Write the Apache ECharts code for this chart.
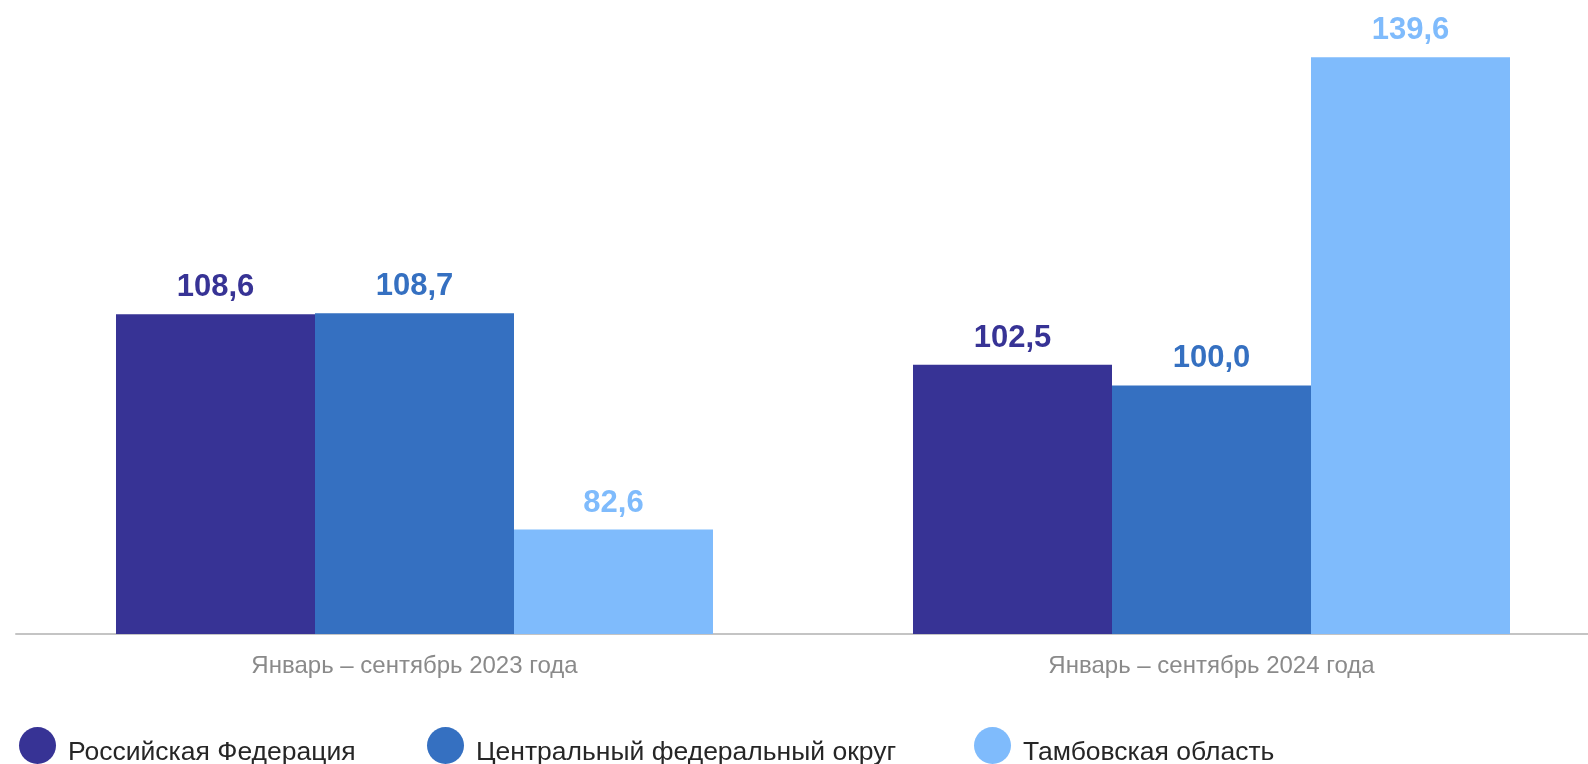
<!DOCTYPE html>
<html>
<head>
<meta charset="utf-8">
<script src="https://cdn.jsdelivr.net/npm/echarts@6/dist/echarts.min.js"></script>
<style>
html,body{margin:0;padding:0;background:#fff;}
#main{width:1588px;height:764px;}
</style>
</head>
<body>
<div id="main"></div>
<script>
// периоды
var categories = ['Январь – сентябрь 2023 года', 'Январь – сентябрь 2024 года'];
var catPos = [0, 1];
var seriesNames = ['Российская Федерация', 'Центральный федеральный округ', 'Тамбовская область'];
var rfData = [108.6, 102.5];
var cfoData = [108.7, 100.0];
var tambovData = [82.6, 139.6];
var colors = ['#373395', '#3570c1', '#7fbbfc'];
var legendLeft = [19, 427, 974];

var font = '"Liberation Sans", Arial, sans-serif';

function fmt(p) {
	return p.value[1].toFixed(1).replace('.', ',');
}

function makeSeries(name, data, color) {
	var pts = [];
	for (var k = 0; k < data.length; k++) {
		pts.push([catPos[k], data[k]]);
	}
	return {
		name: name,
		type: 'bar',
		data: pts,
		barWidth: 199,
		barGap: '0%',
		itemStyle: { color: color },
		label: {
			show: true,
			position: 'top',
			distance: 11,
			formatter: fmt,
			color: color,
			fontFamily: font,
			fontWeight: 'bold',
			fontSize: 31
		}
	};
}

var legends = [];
for (var i = 0; i < seriesNames.length; i++) {
	legends.push({
		data: [seriesNames[i]],
		left: legendLeft[i],
		top: 727,
		padding: 0,
		icon: 'circle',
		itemWidth: 37,
		itemHeight: 37,
		// пустой высокий токен опускает подпись чуть ниже центра кружка
		formatter: function (n) { return '{s|}{t|' + n + '}'; },
		textStyle: {
			color: '#262626',
			fontFamily: font,
			fontSize: 26.5,
			padding: [0, 0, 0, 7],
			rich: {
				s: { width: 0, height: 41 },
				t: {
					color: '#262626',
					fontFamily: font,
					fontSize: 26.5,
					verticalAlign: 'bottom'
				}
			}
		}
	});
}

var myChart = echarts.init(document.getElementById('main'));
myChart.setOption({
	animation: false,
	color: colors,
	grid: { left: 16, top: 54, right: 0, height: 580 },
	legend: legends,
	xAxis: {
		type: 'value',
		// шаг между периодами 797px, первый центр на 414.5px
		min: -0.5,
		max: 1.4724,
		axisLine: { show: true, onZero: false, lineStyle: { color: '#c4c4c4', width: 2 } },
		axisTick: { show: false },
		splitLine: { show: false },
		axisLabel: {
			customValues: catPos,
			formatter: function (v) { return categories[Math.round(v)]; },
			color: '#8a8a8a',
			fontFamily: font,
			fontSize: 24,
			margin: 20
		}
	},
	yAxis: {
		type: 'value',
		min: 70,
		max: 140,
		show: false,
		splitLine: { show: false }
	},
	series: [
		makeSeries(seriesNames[0], rfData, colors[0]),
		makeSeries(seriesNames[1], cfoData, colors[1]),
		makeSeries(seriesNames[2], tambovData, colors[2])
	]
});
</script>
</body>
</html>
